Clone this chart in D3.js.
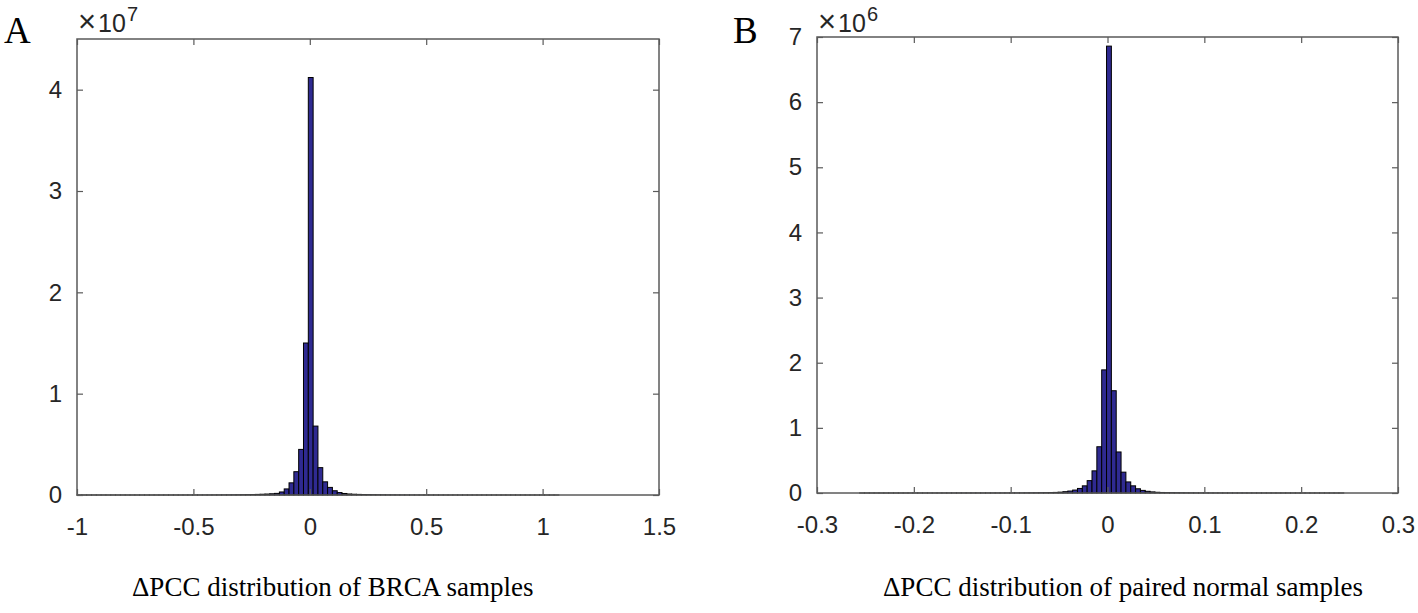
<!DOCTYPE html>
<html>
<head>
<meta charset="utf-8">
<script src="https://cdn.jsdelivr.net/npm/d3@7"></script>
<style>
  body { margin: 0; background: #fff; }
  .tick text { font-family: "Liberation Sans", Arial, sans-serif; fill: #262626; }
</style>
</head>
<body>
<svg id="chart" width="1418" height="613"></svg>
<script>
// panel A : BRCA samples, counts in units of 1e7, 100 bins
var binStartA = -1, binWidthA = 0.0207;
var countsA = [
  0.0001,0.0001,0.0001,0.0001,0.0001,0.0001,0.0001,0.0001,0.0001,0.0001,
  0.0001,0.0001,0.0001,0.0001,0.0001,0.0001,0.0001,0.0001,0.0001,0.0002,
  0.0002,0.0002,0.0002,0.0003,0.0003,0.0004,0.0005,0.0006,0.0008,0.001,
  0.0012,0.0015,0.0019,0.0024,0.003,0.0038,0.0048,0.006,0.0075,0.0095,
  0.012,0.016,0.03,0.06,0.12,0.23,0.45,1.50,4.12,0.68,
  0.27,0.13,0.075,0.042,0.024,0.015,0.01,0.0075,0.006,0.0048,
  0.0038,0.003,0.0024,0.0019,0.0015,0.0012,0.001,0.0008,0.0007,0.0006,
  0.0005,0.0004,0.0004,0.0003,0.0003,0.0002,0.0002,0.0002,0.0002,0.0001,
  0.0001,0.0001,0.0001,0.0001,0.0001,0.0001,0.0001,0.0001,0.0001,0.0001,
  0.0001,0.0001,0.0001,0.0001,0.0001,0.0001,0.0001,0.0001,0.0001,0.0001
];
var xTicksA = [-1, -0.5, 0, 0.5, 1, 1.5];
var yTicksA = [0, 1, 2, 3, 4];

// panel B : paired normal samples, counts in units of 1e6, 100 bins
var binStartB = -0.256, binWidthB = 0.005;
var countsB = [
  0.0005,0.0005,0.0005,0.0005,0.0005,0.0005,0.0005,0.0005,0.0005,0.0005,
  0.0006,0.0006,0.0006,0.0006,0.0007,0.0007,0.0007,0.0008,0.0008,0.0008,
  0.0009,0.0009,0.001,0.001,0.001,0.001,0.0011,0.0011,0.0012,0.0012,
  0.0013,0.0015,0.0017,0.002,0.0025,0.003,0.0035,0.0045,0.0055,0.007,
  0.009,0.013,0.02,0.03,0.045,0.07,0.11,0.19,0.34,0.71,
  1.89,6.86,1.57,0.63,0.32,0.17,0.11,0.065,0.04,0.026,
  0.017,0.011,0.008,0.006,0.005,0.004,0.0033,0.0027,0.0022,0.0018,
  0.0015,0.0014,0.0013,0.0012,0.0011,0.001,0.001,0.001,0.0009,0.0009,
  0.0008,0.0008,0.0008,0.0007,0.0007,0.0007,0.0006,0.0006,0.0006,0.0006,
  0.0005,0.0005,0.0005,0.0005,0.0005,0.0005,0.0005,0.0005,0.0005,0.0005
];
var xTicksB = [-0.3, -0.2, -0.1, 0, 0.1, 0.2, 0.3];
var yTicksB = [0, 1, 2, 3, 4, 5, 6, 7];

var svg = d3.select("#chart");
svg.append("rect").attr("width", 1418).attr("height", 613).attr("fill", "#fff");

var barColor = "#2f2a91",
    axisColor = "#5a5a5a";

function draw_panel(opt) {
  var x = d3.scaleLinear().domain(opt.xDomain).range([opt.left, opt.right]);
  var y = d3.scaleLinear().domain(opt.yDomain).range([opt.bottom, opt.top]);
  var g = svg.append("g");

  var bins = opt.counts.map(function(c, i) {
    return { x0: opt.binStart + i * opt.binWidth, x1: opt.binStart + (i + 1) * opt.binWidth, v: c };
  });

  g.selectAll("rect.bar")
    .data(bins)
    .enter().append("rect")
      .attr("class", "bar")
      .attr("x", function(d) { return x(d.x0); })
      .attr("width", function(d) { return x(d.x1) - x(d.x0); })
      .attr("y", function(d) { return y(d.v); })
      .attr("height", function(d) { return y(0) - y(d.v); })
      .attr("fill", barColor)
      .attr("stroke", "#000")
      .attr("stroke-width", 1);

  // box
  g.append("rect")
    .attr("x", opt.left).attr("y", opt.top)
    .attr("width", opt.right - opt.left).attr("height", opt.bottom - opt.top)
    .attr("fill", "none").attr("stroke", axisColor).attr("stroke-width", 1.5);

  var fs = 24;
  var fmt = function(d) { return String(d); };
  var xb = g.append("g").attr("transform", "translate(0," + opt.bottom + ")")
    .call(d3.axisBottom(x).tickValues(opt.xTicks).tickSizeInner(-6).tickSizeOuter(0).tickPadding(23).tickFormat(fmt));
  var xt = g.append("g").attr("transform", "translate(0," + opt.top + ")")
    .call(d3.axisTop(x).tickValues(opt.xTicks).tickSizeInner(-6).tickSizeOuter(0).tickFormat(""));
  var yl = g.append("g").attr("transform", "translate(" + opt.left + ",0)")
    .call(d3.axisLeft(y).tickValues(opt.yTicks).tickSizeInner(-6).tickSizeOuter(0).tickPadding(15).tickFormat(fmt));
  var yr = g.append("g").attr("transform", "translate(" + opt.right + ",0)")
    .call(d3.axisRight(y).tickValues(opt.yTicks).tickSizeInner(-6).tickSizeOuter(0).tickFormat(""));

  [xb, xt, yl, yr].forEach(function(a) {
    a.select(".domain").remove();
    a.selectAll("line").attr("stroke", axisColor).attr("stroke-width", 1.2);
    a.selectAll("text").attr("font-size", fs).attr("fill", "#262626");
  });

  // exponent
  var ex = g.append("g")
    .attr("font-family", "Liberation Sans, Arial, sans-serif")
    .attr("fill", "#262626");
  ex.append("text").attr("x", opt.left + 1).attr("y", 32).attr("font-size", 31).attr("font-weight", 300).text("\u00d7");
  ex.append("text").attr("x", opt.left + 21).attr("y", 32).attr("font-size", 25).text("10");
  ex.append("text").attr("x", opt.left + 50).attr("y", 21).attr("font-size", 20).text(opt.exponent);

  // panel letter
  g.append("text")
    .attr("x", opt.letterX).attr("y", 43)
    .attr("font-family", "Liberation Serif, Times New Roman, serif")
    .attr("font-size", 37).attr("fill", "#000")
    .text(opt.letter);

  // caption
  g.append("text")
    .attr("x", opt.captionX).attr("y", 596)
    .attr("font-family", "Liberation Serif, Times New Roman, serif")
    .attr("font-size", 27).attr("fill", "#000")
    .text(opt.caption);
}

draw_panel({
  left: 77, right: 659, top: 39, bottom: 495,
  xDomain: [-1, 1.5], yDomain: [0, 4.5],
  binStart: binStartA, binWidth: binWidthA, counts: countsA,
  xTicks: xTicksA, yTicks: yTicksA, exponent: "7",
  letter: "A", letterX: 4,
  caption: "\u0394PCC distribution of BRCA samples", captionX: 132
});

draw_panel({
  left: 817, right: 1398, top: 37, bottom: 493,
  xDomain: [-0.3, 0.3], yDomain: [0, 7],
  binStart: binStartB, binWidth: binWidthB, counts: countsB,
  xTicks: xTicksB, yTicks: yTicksB, exponent: "6",
  letter: "B", letterX: 733,
  caption: "\u0394PCC distribution of paired normal samples", captionX: 883
});
</script>
</body>
</html>
